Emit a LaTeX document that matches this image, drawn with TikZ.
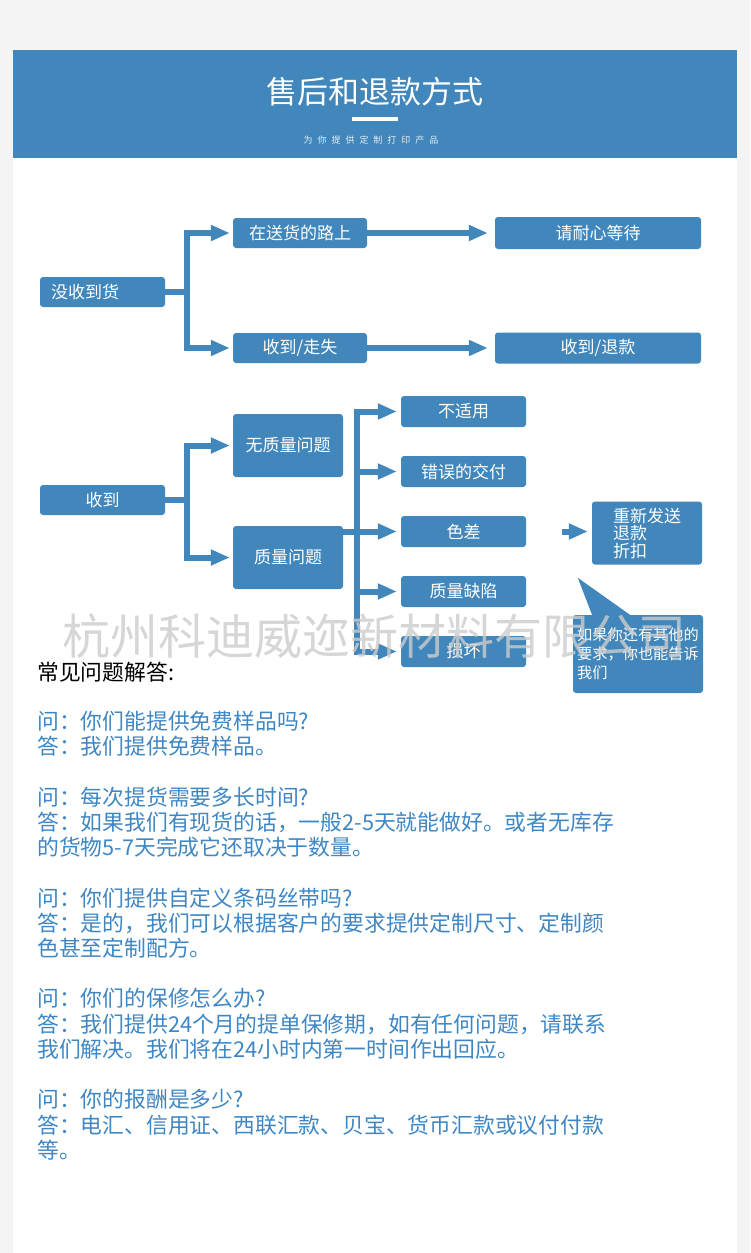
\documentclass[tikz,border=0pt]{standalone}
\usepackage{fontspec}
\setmainfont{Noto Sans CJK SC}
\newfontfamily\subfont[LetterSpace=55]{Noto Sans CJK SC}
\usetikzlibrary{arrows.meta}
\usetikzlibrary{positioning}
\definecolor{sblue}{HTML}{4287BC}
\definecolor{qblue}{HTML}{3F87C4}
\definecolor{pagegray}{HTML}{F4F4F4}
\tikzset{box/.style={rectangle, rounded corners=3pt, fill=sblue, text=white,
    inner sep=0pt, minimum height=30pt, font=\fontsize{17}{20}\selectfont}}

\begin{document}
\begin{tikzpicture}[x=1pt, y=-1pt,
      flow/.style={draw=sblue, line width=6pt, -{Triangle[length=19pt,width=15pt]}},
      link/.style={draw=sblue, line width=6pt},
      node distance=60pt,
      on grid]

    % page and header
    \useasboundingbox (0,0) rectangle (750,1253);
    \fill[pagegray] (0,0) rectangle (750,1253);
    \fill[white] (13,50) rectangle (737,1253);
    \fill[sblue] (13,50) rectangle (737,158);
    \node[text=white, font=\fontsize{31}{34}\selectfont]
      (title) at (375,92) {售后和退款方式};
    \fill[white] (352,117) rectangle (398,121);
    \node[text=white!85!sblue, font=\subfont\fontsize{9}{10}\selectfont]
      (subtitle) at (371,140) {为你提供定制打印产品};

    % not received
    \node[box, minimum width=125pt, text width=103pt, align=left]
      (nogoods) at (102.5,292) {没收到货};
    \node[box, minimum width=134pt]
      (onroad) at (300,233) {在送货的路上};
    \node[box, minimum width=134pt]
      (lost) [below=115pt of onroad] {收到/走失};
    \node[box, minimum width=206pt, minimum height=32pt]
      (wait) [right=298pt of onroad] {请耐心等待};
    \node[box, minimum width=206pt, minimum height=31pt]
      (refund) [right=298pt of lost] {收到/退款};

    \coordinate (split1) at (187,292);
    \draw[link] (nogoods.east) -- (split1);
    \draw[flow, shorten >=3pt] (split1) |- (onroad.west);
    \draw[flow, shorten >=3pt] (split1) |- (lost.west);
    \draw[flow, shorten >=7pt] (onroad.east) -- (wait.west);
    \draw[flow, shorten >=7pt] (lost.east) -- (refund.west);

    % received
    \node[box, minimum width=125pt]
      (received) [below=208pt of nogoods] {收到};
    \node[box, minimum width=110pt, minimum height=63pt]
      (noissue) at (288,445.5) {无质量问题};
    \node[box, minimum width=110pt, minimum height=63pt]
      (issue) [below=112pt of noissue] {质量问题};

    \coordinate (split2) at (187,500);
    \draw[link] (received.east) -- (split2);
    \draw[flow, shorten >=3pt] (split2) |- (noissue.west);
    \draw[flow, shorten >=3pt] (split2) |- (issue.west);

    % kinds of problem
    \node[box, minimum width=125pt, minimum height=31pt]
      (unfit) at (463.5,411.5) {不适用};
    \node[box, minimum width=125pt, minimum height=31pt]
      (wrong) [below=of unfit] {错误的交付};
    \node[box, minimum width=125pt, minimum height=31pt]
      (colour) [below=of wrong] {色差};
    \node[box, minimum width=125pt, minimum height=31pt]
      (defect) [below=of colour] {质量缺陷};
    \node[box, minimum width=125pt, minimum height=31pt]
      (damage) [below=of defect] {损坏};

    \coordinate (trunk) at (357,0);
    \draw[flow, shorten >=4pt] (trunk |- damage.west) |- (unfit.west);
    \draw[flow, shorten >=4pt] (trunk |- unfit.west) |- (damage.west);
    \draw[flow, shorten >=4pt] (trunk |- wrong.west) -- (wrong.west);
    \draw[flow, shorten >=4pt] (issue.east |- colour.west) -- (colour.west);
    \draw[flow, shorten >=4pt] (trunk |- defect.west) -- (defect.west);

    % what we offer
    \node[box, minimum width=110pt, minimum height=63pt, align=left,
          font=\fontsize{17}{17.5}\selectfont]
      (remedy) at (647,533) {重新发送\\退款\\折扣};
    \draw[flow, shorten <=36pt, shorten >=4pt] (colour.east) -- (colour.east -| remedy.west);

    \node[box, minimum width=130pt, minimum height=78pt, align=left,
          font=\fontsize{15.2}{19}\selectfont]
      (note) at (638,654) {如果你还有其他的\\要求，你也能告诉\\我们};
    \fill[sblue] ([shift={(20pt,-2pt)}]note.north west)
      -- ([shift={(5pt,37pt)}]note.north west)
      -- ([shift={(60pt,-2pt)}]note.north west) -- cycle;

    % watermark
    \node[text=black!20, text opacity=0.8, font=\fontsize{48}{50}\selectfont]
      (mark) at (374.5,636) {杭州科迪威迩新材料有限公司};

    % questions and answers
    \node[anchor=west, inner sep=0pt, font=\fontsize{21.8}{25.3}\selectfont]
      (faqhead) at (37,672) {常见问题解答:};
    \node[anchor=north west, align=left, inner sep=0pt, text=qblue,
          font=\fontsize{21.8}{25.3}\selectfont]
      (faq) at (37,711) {问：你们能提供免费样品吗?\\
        答：我们提供免费样品。\\[25pt]
        问：每次提货需要多长时间?\\
        答：如果我们有现货的话，一般2-5天就能做好。或者无库存\\
        的货物5-7天完成它还取决于数量。\\[25pt]
        问：你们提供自定义条码丝带吗?\\
        答：是的，我们可以根据客户的要求提供定制尺寸、定制颜\\
        色甚至定制配方。\\[25pt]
        问：你们的保修怎么办?\\
        答：我们提供24个月的提单保修期，如有任何问题，请联系\\
        我们解决。我们将在24小时内第一时间作出回应。\\[25pt]
        问：你的报酬是多少?\\
        答：电汇、信用证、西联汇款、贝宝、货币汇款或议付付款\\
        等。};

  \end{tikzpicture}
\end{document}
